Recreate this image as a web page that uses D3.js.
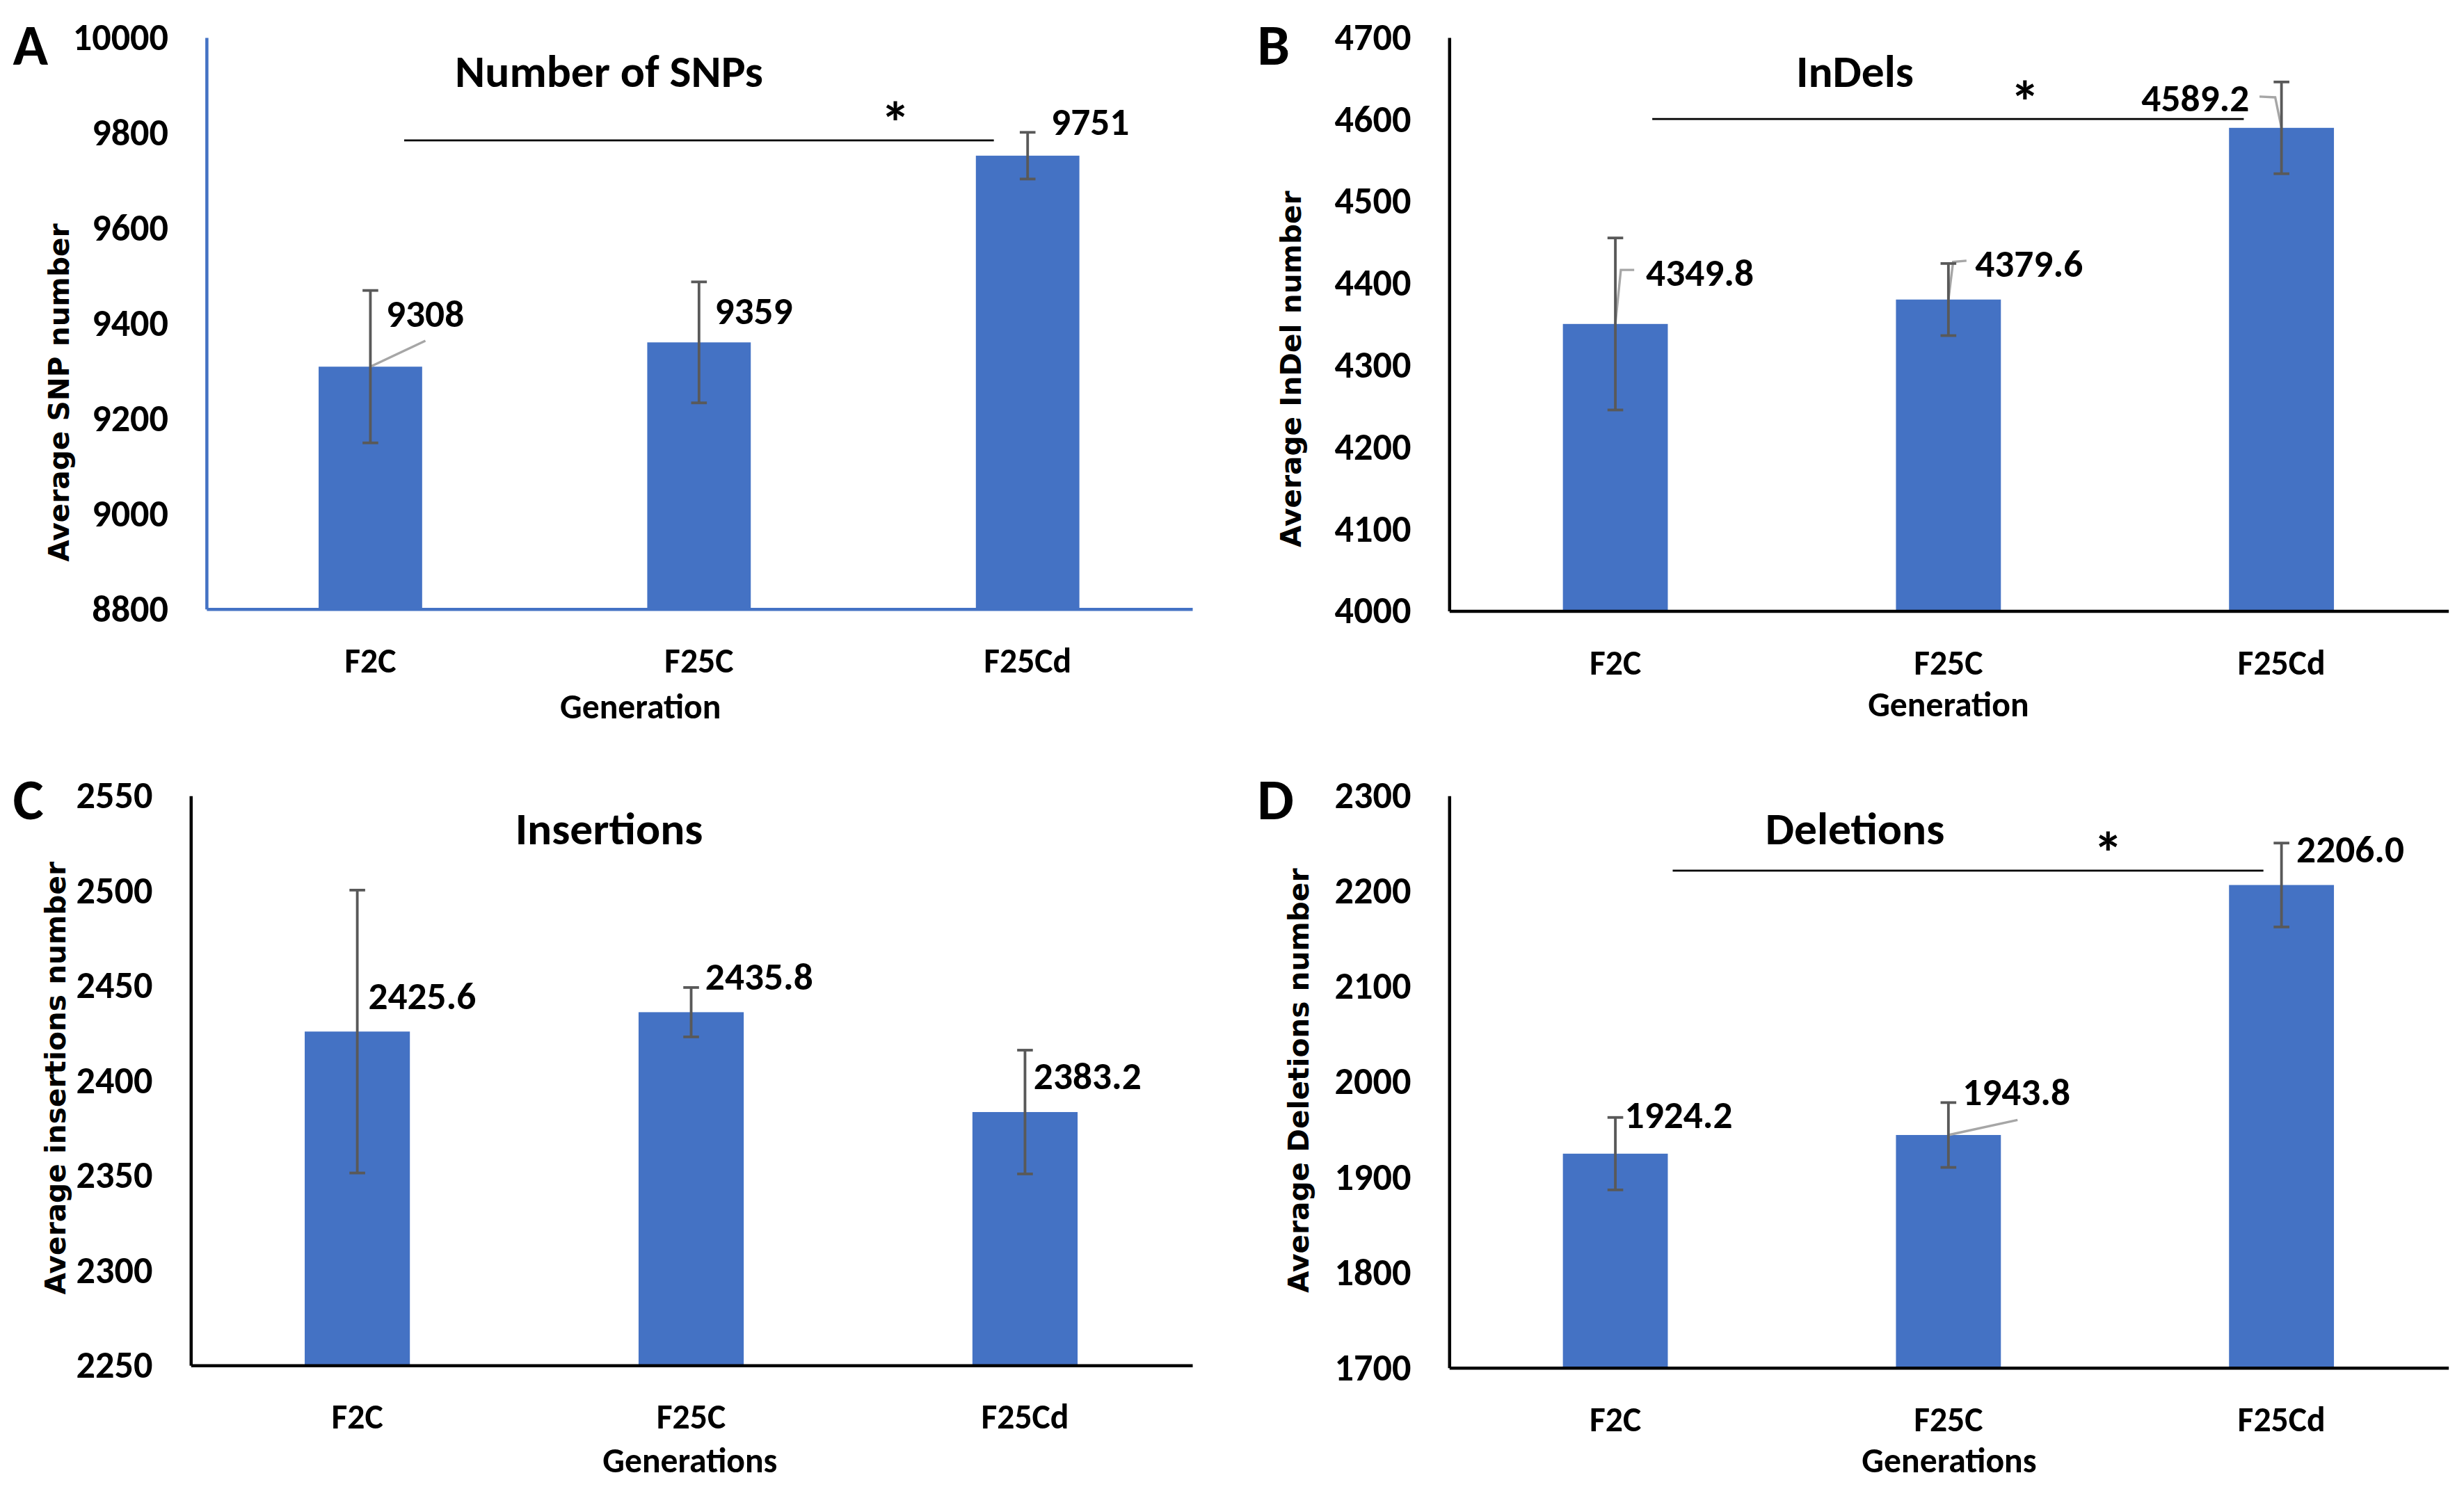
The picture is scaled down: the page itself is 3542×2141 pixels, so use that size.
<!DOCTYPE html>
<html>
<head>
<meta charset="utf-8">
<script src="https://cdn.jsdelivr.net/npm/d3@7"></script>
<style>
  html, body { margin: 0; padding: 0; background: #fff; }
  svg { display: block; }
  text { font-family: Carlito, Lato, sans-serif; font-weight: bold; fill: #000; }
  text.ytitle { font-family: "DejaVu Sans", Verdana, sans-serif; }
</style>
</head>
<body>
<div class="chart"></div>
<script>
// data
const categories = ["F2C", "F25C", "F25Cd"];

const snpMeans = [9308, 9359, 9751];
const snpErrors = [160, 127, 49];
const snpTicks = [8800, 9000, 9200, 9400, 9600, 9800, 10000];

const indelMeans = [4349.8, 4379.6, 4589.2];
const indelErrors = [105, 44, 56];
const indelTicks = [4000, 4100, 4200, 4300, 4400, 4500, 4600, 4700];

const insMeans = [2425.6, 2435.8, 2383.2];
const insErrors = [74.5, 13, 32.6];
const insTicks = [2250, 2300, 2350, 2400, 2450, 2500, 2550];

const delMeans = [1924.2, 1943.8, 2206.0];
const delErrors = [38, 34, 44];
const delTicks = [1700, 1800, 1900, 2000, 2100, 2200, 2300];

// significance bar level (F2C vs F25Cd)
const snpSigLevel = 9783;
const indelSigLevel = 4600;
const delSigLevel = 2221;

const W = 1568, H = 948;

const svg = d3.select(".chart")
  .append("svg")
  .attr("width", 3542)
  .attr("height", 2141)
  .attr("viewBox", `0 0 ${W} ${H}`);

const panels = [
  {
    letter: "A", title: "Number of SNPs", ytitle: "Average SNP number", xtitle: "Generation",
    means: snpMeans, errors: snpErrors, ticks: snpTicks, fmt: d3.format("d"), sig: snpSigLevel,
    left: 131, right: 758.5, top: 23.6, bottom: 387.5, axisColor: "#4472C4",
    letterPos: [8, 41], titlePos: [387.5, 45], ytitlePos: [37.5, 250], xtitlePos: [407.5, 449.5],
    labelOff: [[10, -34], [10, -20], [15, -22]],
    leaders: [[[0, 0], [35, -16.5]], null, null],
    sigOff: [21.5, -21.5], starFrac: 0.833
  },
  {
    letter: "B", title: "InDels", ytitle: "Average InDel number", xtitle: "Generation",
    means: indelMeans, errors: indelErrors, ticks: indelTicks, fmt: d3.format(".1f"), sig: indelSigLevel,
    left: 922, right: 1558, top: 23.6, bottom: 388.7, axisColor: "#000",
    letterPos: [800, 41], titlePos: [1180.5, 45], ytitlePos: [821.5, 235], xtitlePos: [1240, 448.5],
    labelOff: [[19.5, -33], [17, -23], [-20.5, -19]],
    leaders: [[[0, 0], [3.5, -34.4], [12, -34.4]], [[0, 0], [3, -24], [11.5, -24.7]], [[0, 0], [-4, -19.4], [-14, -19.9]]],
    sigOff: [23.5, -24], starFrac: 0.63
  },
  {
    letter: "C", title: "Insertions", ytitle: "Average insertions number", xtitle: "Generations",
    means: insMeans, errors: insErrors, ticks: insTicks, fmt: d3.format(".1f"), sig: null,
    left: 121, right: 758.5, top: 506.4, bottom: 869, axisColor: "#000",
    letterPos: [8, 521.5], titlePos: [387.5, 527.6], ytitlePos: [35, 686.4], xtitlePos: [439, 929.5],
    labelOff: [[7, -23], [9, -23], [5.5, -23]],
    leaders: [null, null, null]
  },
  {
    letter: "D", title: "Deletions", ytitle: "Average Deletions number", xtitle: "Generations",
    means: delMeans, errors: delErrors, ticks: delTicks, fmt: d3.format(".1f"), sig: delSigLevel,
    left: 922, right: 1558, top: 506.4, bottom: 870.6, axisColor: "#000",
    letterPos: [800, 521.5], titlePos: [1180.5, 527.6], ytitlePos: [826.5, 688], xtitlePos: [1240.5, 929.5],
    labelOff: [[6, -25], [9, -27.6], [9.5, -23]],
    leaders: [null, [[0, 0], [44, -9.6]], null],
    sigOff: [36.5, -11.5], starFrac: 0.737
  }
];

panels.forEach(p => drawPanel(p));

function drawPanel(p) {
  const g = svg.append("g");

  const x = d3.scaleBand()
    .domain(categories)
    .range([p.left, p.right])
    .paddingInner(0.685)
    .paddingOuter(0.3425);

  const y = d3.scaleLinear()
    .domain(d3.extent(p.ticks))
    .range([p.bottom, p.top]);

  const cx = d => x(d) + x.bandwidth() / 2;

  // bars
  g.selectAll(".bar")
    .data(categories)
    .enter()
    .append("rect")
    .attr("x", d => x(d))
    .attr("y", (d, i) => y(p.means[i]))
    .attr("width", x.bandwidth())
    .attr("height", (d, i) => p.bottom - y(p.means[i]))
    .attr("fill", "#4472C4");

  // y axis
  const yAxis = g.append("g")
    .attr("transform", `translate(${p.left},0)`)
    .call(d3.axisLeft(y).tickValues(p.ticks).tickSize(0).tickPadding(24).tickFormat(d3.format("d")));
  yAxis.select(".domain").attr("stroke", p.axisColor).attr("stroke-width", 2);
  yAxis.selectAll(".tick text")
    .attr("font-size", 24)
    .attr("fill", "#000");

  // x axis
  const xAxis = g.append("g")
    .attr("transform", `translate(0,${p.bottom})`)
    .call(d3.axisBottom(x).tickSize(0).tickPadding(25));
  xAxis.select(".domain").attr("stroke", p.axisColor).attr("stroke-width", 2);
  xAxis.selectAll(".tick text")
    .attr("font-size", 22)
    .attr("fill", "#000");

  // leader lines
  const leaderLine = d3.line();
  p.leaders.forEach((pts, i) => {
    if (!pts) return;
    const bx = cx(categories[i]), by = y(p.means[i]);
    g.append("path")
      .attr("d", leaderLine(pts.map(q => [bx + q[0], by + q[1]])))
      .attr("fill", "none")
      .attr("stroke", "#A6A6A6")
      .attr("stroke-width", 1.5);
  });

  // error bars
  const eb = g.selectAll(".err")
    .data(categories)
    .enter()
    .append("g")
    .attr("stroke", "#595959")
    .attr("stroke-width", 1.7);
  eb.append("line")
    .attr("x1", d => cx(d)).attr("x2", d => cx(d))
    .attr("y1", (d, i) => y(p.means[i] - p.errors[i]))
    .attr("y2", (d, i) => y(p.means[i] + p.errors[i]));
  [-1, 1].forEach(s => {
    eb.append("line")
      .attr("x1", d => cx(d) - 5).attr("x2", d => cx(d) + 5)
      .attr("y1", (d, i) => y(p.means[i] + s * p.errors[i]))
      .attr("y2", (d, i) => y(p.means[i] + s * p.errors[i]));
  });

  // data labels
  g.selectAll(".lbl")
    .data(categories)
    .enter()
    .append("text")
    .text((d, i) => p.fmt(p.means[i]))
    .attr("x", (d, i) => cx(d) + p.labelOff[i][0])
    .attr("y", (d, i) => y(p.means[i]) + p.labelOff[i][1])
    .attr("dy", "0.35em")
    .attr("text-anchor", (d, i) => p.labelOff[i][0] < 0 ? "end" : "start")
    .attr("font-size", 24.5);

  // significance line + star
  if (p.sig !== null) {
    const x1 = cx(categories[0]) + p.sigOff[0];
    const x2 = cx(categories[2]) + p.sigOff[1];
    g.append("line")
      .attr("x1", x1).attr("x2", x2)
      .attr("y1", y(p.sig)).attr("y2", y(p.sig))
      .attr("stroke", "#000")
      .attr("stroke-width", 1.2);
    g.append("text")
      .text("*")
      .attr("x", x1 + (x2 - x1) * p.starFrac)
      .attr("y", y(p.sig) + 2)
      .attr("text-anchor", "middle")
      .attr("font-size", 38);
  }

  // titles
  g.append("text")
    .text(p.title)
    .attr("x", p.titlePos[0])
    .attr("y", p.titlePos[1])
    .attr("dy", "0.35em")
    .attr("text-anchor", "middle")
    .attr("font-size", 29);

  g.append("text")
    .text(p.xtitle)
    .attr("x", p.xtitlePos[0])
    .attr("y", p.xtitlePos[1])
    .attr("dy", "0.35em")
    .attr("text-anchor", "middle")
    .attr("font-size", 22);

  g.append("text")
    .attr("class", "ytitle")
    .text(p.ytitle)
    .attr("transform", `translate(${p.ytitlePos[0]},${p.ytitlePos[1]}) rotate(-90)`)
    .attr("dy", "0.35em")
    .attr("text-anchor", "middle")
    .attr("font-size", 18);

  g.append("text")
    .text(p.letter)
    .attr("x", p.letterPos[0])
    .attr("y", p.letterPos[1])
    .attr("font-size", 37);
}
</script>
</body>
</html>
